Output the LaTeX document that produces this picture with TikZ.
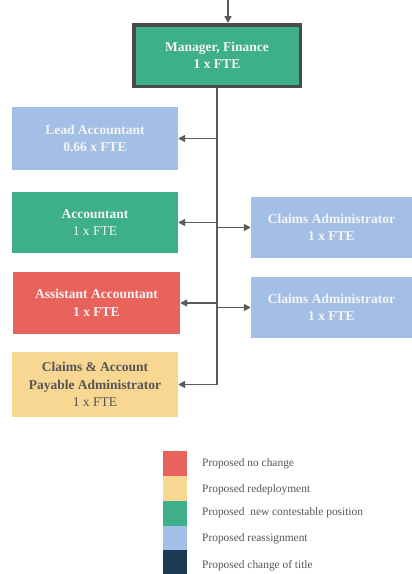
\documentclass[tikz,border=0pt]{standalone}
\usepackage{fontspec}
\setmainfont{Liberation Serif}
\usetikzlibrary{arrows.meta}
\definecolor{rolegreen}{HTML}{3DAF8A}
\definecolor{rolered}{HTML}{E9625B}
\definecolor{roleyellow}{HTML}{F7D791}
\definecolor{roleblue}{HTML}{A4BFE5}
\definecolor{rolenavy}{HTML}{1A3B55}
\definecolor{framegrey}{HTML}{4A4A4A}
\definecolor{linkgrey}{HTML}{5A5A5A}
\definecolor{darktext}{HTML}{555555}
\definecolor{lighttext}{HTML}{F4F4F4}
\begin{document}
\begin{tikzpicture}[x=1pt,y=-1pt,
  rolebox/.style={rectangle, inner sep=0pt, align=center, text=lighttext,
    font=\bfseries\fontsize{13.5}{17.5}\selectfont},
  link/.style={draw=linkgrey, line width=1.6pt, -{Triangle[length=7pt,width=7pt]}},
  trunkline/.style={draw=linkgrey, line width=1.6pt},
  swatch/.style={rectangle, inner sep=0pt, minimum width=24pt, minimum height=25pt},
  legendtext/.style={anchor=west, inner sep=0pt, text=darktext,
    font=\fontsize{11.4}{13}\selectfont}]
\useasboundingbox (0,0) rectangle (412,574);

% head of the unit
\node[rolebox, fill=rolegreen, draw=framegrey, line width=3.5pt,
      minimum width=166.5pt, minimum height=61.5pt] (mgr) at (217,55.5)
      {Manager, Finance\\1 x FTE};
\coordinate (feed) at (228,0);
\draw[link] (feed) -- (feed |- mgr.north);

% left column
\node[rolebox, fill=roleblue, minimum width=166pt, minimum height=63pt]
  (lead) at (95,138.5) {Lead Accountant\\0.66 x FTE};
\node[rolebox, fill=rolegreen, minimum width=166pt, minimum height=61pt]
  (acc) at (95,222.5) {Accountant\\{\mdseries 1 x FTE}};
\node[rolebox, fill=rolered, minimum width=167pt, minimum height=62pt]
  (asst) at (96.5,303) {Assistant Accountant\\1 x FTE};
\node[rolebox, fill=roleyellow, text=darktext, minimum width=166pt, minimum height=65pt]
  (cap) at (95,384.5) {Claims \& Account\\Payable Administrator\\{\mdseries 1 x FTE}};

% right column
\node[rolebox, fill=roleblue, minimum width=161pt, minimum height=61pt]
  (ca1) at (331.5,227.5) {Claims Administrator\\1 x FTE};
\node[rolebox, fill=roleblue, minimum width=161pt, minimum height=61pt]
  (ca2) at (331.5,307.5) {Claims Administrator\\1 x FTE};

% reporting lines
\draw[trunkline] (mgr.south) -- (mgr.south |- cap.east);
\foreach \n in {lead,acc,asst,cap}
  \draw[link] (mgr.south |- \n.east) -- (\n.east);
\foreach \n in {ca1,ca2}
  \draw[link] (mgr.south |- \n.west) -- (\n.west);

% legend
\node[swatch, fill=rolered]    (k1) at (175,463) {};
\node[swatch, fill=roleyellow] (k2) at (175,488) {};
\node[swatch, fill=rolegreen]  (k3) at (175,513) {};
\node[swatch, fill=roleblue]   (k4) at (175,538) {};
\node[swatch, fill=rolenavy]   (k5) at (175,562) {};
\node[legendtext] (t1) at (202,464) {Proposed no change};
\node[legendtext] (t2) at (202,490) {Proposed redeployment};
\node[legendtext] (t3) at (202,513) {Proposed\ \ new contestable position};
\node[legendtext] (t4) at (202,539) {Proposed reassignment};
\node[legendtext] (t5) at (202,566) {Proposed change of title};
\end{tikzpicture}
\end{document}
